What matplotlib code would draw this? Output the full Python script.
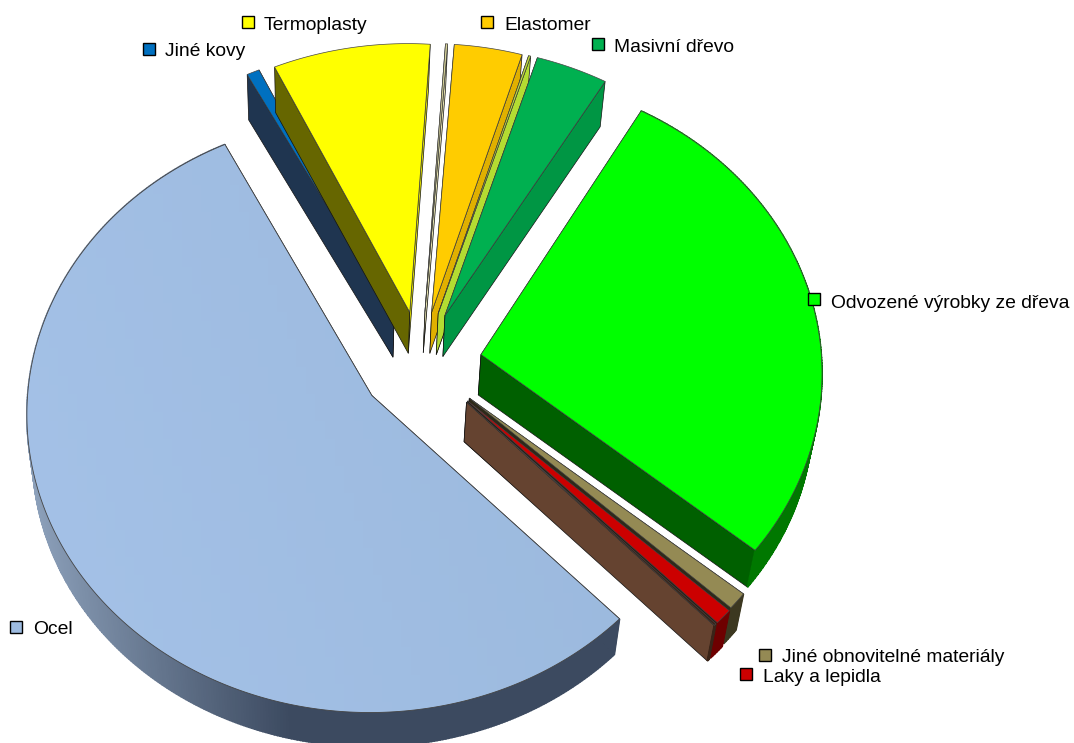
import numpy as np
import matplotlib
matplotlib.use('Agg')
import matplotlib.pyplot as plt
from matplotlib.patches import Polygon, Rectangle
from matplotlib.colors import LinearSegmentedColormap, to_rgb

plt.rcParams['font.family'] = ['Liberation Sans', 'DejaVu Sans']

# podily materialu v %, po smeru hodin od startovniho uhlu
names = ['Jiné kovy', 'Termoplasty', '', 'Elastomer', '', 'Masivní dřevo',
         'Odvozené výrobky ze dřeva', 'Jiné obnovitelné materiály', 'Laky a lepidla', '', 'Ocel']
values = [0.6, 7.4, 0.1, 3.2, 0.1, 3.4, 27.3, 0.95, 0.85, 0.12, 56.1]

# vzhled
top_colors = ['#0070C0', '#FFFF00', '#D8D49A', '#FFCC00', '#C4E03C',
              '#00B050', '#00FF00', '#948A54', '#CC0000', '#3A2418', '#9DBBE0']
start_wall = ['#1F3550', '#666600', '#A8A570', '#997A00', '#7A9A20',
              '#006A30', '#006000', '#4A4528', '#660000', '#3A2418', '#3C4A60']
end_wall = ['#1F3550', '#E0E000', '#E8E4B0', '#E0B000', '#B4DC32',
            '#009644', '#006000', '#2E2A18', '#2B2015', '#654330', '#3C4A60']
rim_wall = ['#1F3550', '#666600', '#A8A570', '#997A00', '#7A9A20',
            '#009644', '#007800', '#3C3820', '#6E0000', '#3A2418', '#3C4A60']
explode = [65, 65, 65, 65, 65, 65, 62, 62, 63, 63, 60]

start_angle = 115
hub = (420.5, 366)
y_squash = 0.84
rx, ry = 343, 298
depth_scale = 0.982
vanish = (330, 2600)

# legenda: pozice klice a textu
legend_pos = {
    'Ocel': (16, 627, 33, 630),
    'Jiné kovy': (149, 49, 165, 52),
    'Termoplasty': (248, 22, 264, 25),
    'Elastomer': (487, 22, 504, 25),
    'Masivní dřevo': (598, 44, 614, 47),
    'Odvozené výrobky ze dřeva': (814, 299, 831, 303),
    'Jiné obnovitelné materiály': (765, 655, 782, 658),
    'Laky a lepidla': (746, 674, 763, 677),
}


def lower(p):
    p = np.asarray(p, dtype=float)
    v = np.array(vanish, dtype=float)
    return v + depth_scale * (p - v)


fig = plt.figure(figsize=(10.74, 7.43), dpi=100)
ax = fig.add_axes([0, 0, 1, 1])
ax.set_xlim(0, 1074)
ax.set_ylim(743, 0)
ax.axis('off')

total = sum(values)
angle = start_angle
z = 1
for i, val in enumerate(values):
    sweep = val / total * 360
    t1, t2 = angle, angle - sweep
    angle = t2
    mid_deg = (t1 + t2) / 2
    mid = np.radians(mid_deg)
    apex = np.array([hub[0] + explode[i] * np.cos(mid),
                     hub[1] - explode[i] * y_squash * np.sin(mid)])
    # stred elipsy je kvuli perspektive pod spickou vysece
    cen = apex + np.array([-2, 19 + max(0, 354 - apex[1]) * 0.25])
    ts = np.radians(np.linspace(t1, t2, max(int(sweep * 2), 2) + 1))
    rim = np.column_stack([cen[0] + rx * np.cos(ts), cen[1] - ry * np.sin(ts)])
    rim_low = lower(rim)
    apex_low = lower(apex)
    is_steel = names[i] == 'Ocel'

    # vnejsi stena jen tam, kde miri dopredu; u oceli s prechodem
    if t2 < 0:
        for k in range(len(rim) - 1):
            col = rim_wall[i]
            if is_steel:
                f = np.clip((rim[k, 0] - 30) / 260, 0, 1)
                c1 = np.array(to_rgb('#8CA0BA'))
                c2 = np.array(to_rgb(rim_wall[i]))
                col = tuple(c1 + (c2 - c1) * f)
            ax.add_patch(Polygon([rim[k], rim[k + 1], rim_low[k + 1], rim_low[k]],
                                 fc=col, ec=col, lw=1.2, zorder=z + 2))

    # rezne steny, viditelna az nakonec
    wall_a = Polygon([apex, apex_low, rim_low[0], rim[0]], fc=start_wall[i],
                     ec='#111111', lw=0.5, zorder=z)
    wall_b = Polygon([apex, apex_low, rim_low[-1], rim[-1]], fc=end_wall[i],
                     ec='#111111', lw=0.5, zorder=z)
    if mid_deg > 90:
        ax.add_patch(wall_b)
        z += 1
        wall_a.set_zorder(z)
        ax.add_patch(wall_a)
    else:
        ax.add_patch(wall_a)
        z += 1
        wall_b.set_zorder(z)
        ax.add_patch(wall_b)
    z += 2

    # horni plocha
    outline = np.vstack([apex, rim])
    if is_steel:
        ax.add_patch(Polygon(outline, fc='none', ec='#444444', lw=0.6, zorder=z + 1))
        cmap = LinearSegmentedColormap.from_list('ocel', ['#A5C2E8', '#9AB8DC'])
        gx, gy = np.meshgrid(np.linspace(0, 1, 64), np.linspace(0, 1, 64))
        im = ax.imshow(gx - 0.35 * gy, cmap=cmap, extent=(20, 630, 720, 140),
                       aspect='auto', zorder=z)
        im.set_clip_path(Polygon(outline, transform=ax.transData))
        ax.set_xlim(0, 1074)
        ax.set_ylim(743, 0)
    else:
        ax.add_patch(Polygon(outline, fc=top_colors[i], ec='#444444', lw=0.5, zorder=z))
    z += 2

# popisky
for i, name in enumerate(names):
    if name == '':
        continue
    kx, ky, tx, ty = legend_pos[name]
    ax.add_patch(Rectangle((kx - 6, ky - 6), 12, 12, fc=top_colors[i], ec='black',
                           lw=1.0, zorder=z))
    ax.text(tx, ty, name, fontsize=13.9, color='black', va='center', ha='left', zorder=z + 1)

fig.savefig('out.png', dpi=100, facecolor='white')
